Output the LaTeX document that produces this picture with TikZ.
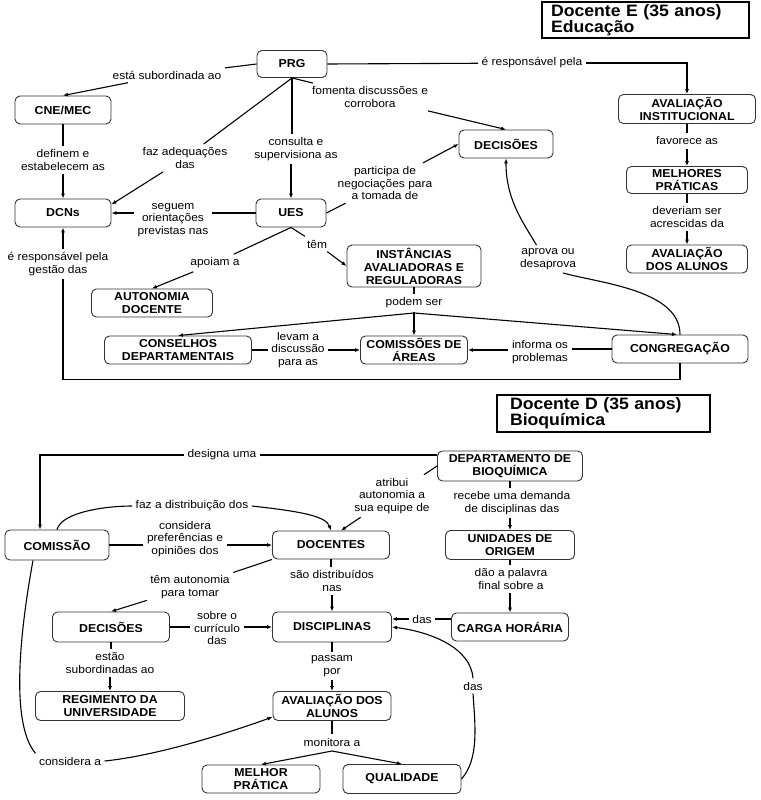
\documentclass[tikz,border=0pt]{standalone}
\usepackage{fontspec}
\setmainfont{Liberation Sans}[FakeStretch=1.07]
\usetikzlibrary{arrows.meta}

\tikzset{
  conceito/.style={draw=black!80, line width=0.9pt, rounded corners=5pt,
    font=\bfseries\fontsize{11.5}{13}\selectfont, align=center, inner sep=1pt},
  tam/.style 2 args={minimum width=#1pt, minimum height=#2pt},
  rotulo/.style={font=\fontsize{11.2}{12.5}\selectfont, align=center, inner sep=3pt},
  titulo/.style={draw, line width=2.4pt, font=\bfseries\fontsize{16.5}{16}\selectfont,
    align=left, inner ysep=2pt},
  seta/.style={-{Latex[length=5pt,width=4pt]}}
}

\begin{document}
\begin{tikzpicture}[x=1pt,y=-1pt,line width=1.1pt]
            \useasboundingbox (0,0) rectangle (760,800);
            % Docente E
            \node[titulo, text width=189pt, inner xsep=9pt, minimum height=36pt] (tituloE) at (645.5,20) {Docente E (35 anos)\\Educação};
            % Conceitos
            \node[conceito, tam={70}{27}] (prg) at (292,64) {PRG};
            \node[conceito, tam={96}{28}] (cne) at (63,110) {CNE/MEC};
            \node[conceito, tam={96}{28}] (dcns) at (63,213) {DCNs};
            \node[conceito, tam={70}{28}] (ues) at (291,213) {UES};
            \node[conceito, tam={94}{28}] (decisoesE) at (506,144) {DECISÕES};
            \node[conceito, tam={137}{29}] (avinst) at (687,109) {AVALIAÇÃO\\INSTITUCIONAL};
            \node[conceito, tam={121}{27}] (melhores) at (687,180) {MELHORES\\PRÁTICAS};
            \node[conceito, tam={121}{28}] (avalunosE) at (687,259) {AVALIAÇÃO\\DOS ALUNOS};
            \node[conceito, tam={134}{42}] (instancias) at (414,266) {INSTÂNCIAS\\AVALIADORAS E\\REGULADORAS};
            \node[conceito, tam={121}{28}] (autonomia) at (152,303) {AUTONOMIA\\DOCENTE};
            \node[conceito, tam={147}{28}] (conselhos) at (178,350) {CONSELHOS\\DEPARTAMENTAIS};
            \node[conceito, tam={107}{28}] (comissoes) at (414,350) {COMISSÕES DE\\ÁREAS};
            \node[conceito, tam={136}{28}] (congregacao) at (680,349) {CONGREGAÇÃO};
            % Frases de ligação
            \node[rotulo] (lSubord) at (167,75) {está subordinada ao};
            \node[rotulo] (lResp) at (532,63) {é responsável pela};
            \node[rotulo] (lFomenta) at (370,97) {fomenta discussões e\\corrobora};
            \node[rotulo] (lAdeq) at (185,158) {faz adequações\\das};
            \node[rotulo] (lConsulta) at (296,149) {consulta e\\supervisiona as};
            \node[rotulo] (lDefinem) at (63,160) {definem e\\estabelecem as};
            \node[rotulo] (lSeguem) at (173,220) {seguem\\orientações\\previstas nas};
            \node[rotulo] (lParticipa) at (385,183) {participa de\\negociações para\\a tomada de};
            \node[rotulo] (lFavorece) at (687,141) {favorece as};
            \node[rotulo] (lDeveriam) at (687,217) {deveriam ser\\acrescidas da};
            \node[rotulo] (lApoiam) at (215,263) {apoiam a};
            \node[rotulo] (lTem) at (317,244) {têm};
            \node[rotulo] (lAprova) at (548,259) {aprova ou\\desaprova};
            \node[rotulo] (lGestao) at (58,264) {é responsável pela\\gestão das};
            \node[rotulo] (lPodem) at (414,303) {podem ser};
            \node[rotulo] (lLevam) at (298,350) {levam a\\discussão\\para as};
            \node[rotulo] (lInforma) at (540,352) {informa os\\problemas};
            \coordinate (juncE) at (414,313);
            % Ligações
            \draw (prg.west) -- (lSubord);
            \draw[seta] (lSubord) -- (cne.north);
            \draw (prg.east) -- (lResp);
            \draw[seta] (lResp) -| (avinst.north);
            \draw (prg.south) -- (lFomenta);
            \draw[seta] (lFomenta) -- (decisoesE.north);
            \draw (prg.south) -- (lAdeq);
            \draw[seta] (lAdeq) -- (dcns.10);
            \draw (prg.south) -- (prg.south |- lConsulta.north);
            \draw[seta] (ues.north |- lConsulta.south) -- (ues.north);
            \draw (cne) -- (cne |- lDefinem.north);
            \draw[seta] (dcns |- lDefinem.south) -- (dcns);
            \draw (ues.west) -- (ues.west -| lSeguem.east);
            \draw[seta] (dcns.east -| lSeguem.west) -- (dcns.east);
            \draw (ues.east) -- (lParticipa);
            \draw[seta] (lParticipa) -- (decisoesE.west);
            \draw (avinst) -- (avinst |- lFavorece.north);
            \draw[seta] (melhores |- lFavorece.south) -- (melhores);
            \draw (melhores) -- (melhores |- lDeveriam.north);
            \draw[seta] (avalunosE |- lDeveriam.south) -- (avalunosE);
            \draw (ues.south) -- (lApoiam);
            \draw[seta] (lApoiam) -- (autonomia.north);
            \draw (ues.south) -- (lTem);
            \draw[seta] (lTem) -- (instancias.west);
            \draw (instancias) -- (instancias |- lPodem.north);
            \draw[seta] (lPodem) -- (comissoes);
            \draw[seta] (juncE) -- (conselhos.north);
            \draw[seta] (juncE) -- ([xshift=-3pt]congregacao.north);
            \draw (conselhos.east) -- (lLevam);
            \draw[seta] (lLevam) -- (comissoes.west);
            \draw (congregacao.west) -- (congregacao.west -| lInforma.east);
            \draw[seta] (comissoes.east -| lInforma.west) -- (comissoes.east);
            \draw (congregacao.north) .. controls +(0,-45) and +(35,10) .. ([xshift=15pt]lAprova.south);
            \draw[seta] ([xshift=20pt]lAprova.north west) .. controls +(-15,-25) and +(0,40) .. (decisoesE.south);
            \draw (congregacao.south) -- ++(0,16) -| (lGestao.south -| dcns.south);
            \draw[seta] (lGestao.north -| dcns.south) -- (dcns.south);

            % Docente D
            \node[titulo, text width=187pt, inner xsep=13pt, minimum height=37pt] (tituloD) at (603.5,413.5) {Docente D (35 anos)\\Bioquímica};
            % Conceitos
            \node[conceito, tam={145}{30}] (departamento) at (510,466) {DEPARTAMENTO DE\\BIOQUÍMICA};
            \node[conceito, tam={129}{29}] (unidades) at (510,545) {UNIDADES DE\\ORIGEM};
            \node[conceito, tam={117}{28}] (carga) at (510,627) {CARGA HORÁRIA};
            \node[conceito, tam={104}{30}] (comissao) at (57,545) {COMISSÃO};
            \node[conceito, tam={117}{28}] (docentes) at (331,545) {DOCENTES};
            \node[conceito, tam={117}{30}] (decisoesD) at (111,627) {DECISÕES};
            \node[conceito, tam={119}{30}] (disciplinas) at (332,627) {DISCIPLINAS};
            \node[conceito, tam={149}{29}] (regimento) at (110,706) {REGIMENTO DA\\UNIVERSIDADE};
            \node[conceito, tam={118}{29}] (avalunosD) at (332,706) {AVALIAÇÃO DOS\\ALUNOS};
            \node[conceito, tam={118}{28}] (melhor) at (261,779) {MELHOR\\PRÁTICA};
            \node[conceito, tam={118}{29}] (qualidade) at (402,779) {QUALIDADE};
            % Frases de ligação
            \node[rotulo] (lDesigna) at (222,455) {designa uma};
            \node[rotulo] (lAtribui) at (392,496) {atribui\\autonomia a\\sua equipe de};
            \node[rotulo] (lRecebe) at (512,503) {recebe uma demanda\\de disciplinas das};
            \node[rotulo] (lFazDist) at (192,506) {faz a distribuição dos};
            \node[rotulo] (lConsidera) at (185,539) {considera\\preferências e\\opiniões dos};
            \node[rotulo] (lTemAut) at (190,587) {têm autonomia\\para tomar};
            \node[rotulo] (lSaoDist) at (332,581) {são distribuídos\\nas};
            \node[rotulo] (lDao) at (511,579) {dão a palavra\\final sobre a};
            \node[rotulo] (lDas) at (422,619) {das};
            \node[rotulo] (lSobre) at (217,628) {sobre o\\currículo\\das};
            \node[rotulo] (lEstao) at (110,663) {estão\\subordinadas ao};
            \node[rotulo] (lPassam) at (332,666) {passam\\por};
            \node[rotulo] (lMonitora) at (332,742) {monitora a};
            \node[rotulo] (lConsideraA) at (70,761) {considera a};
            \node[rotulo] (lDasQ) at (473,686) {das};
            \coordinate (juncD) at (332,751);
            % Ligações
            \draw (departamento.west |- lDesigna) -- (lDesigna);
            \draw[seta] (lDesigna) -| ([xshift=-17pt]comissao.north);
            \draw (departamento.west) -- (lAtribui);
            \draw[seta] (lAtribui) -- ([xshift=10pt]docentes.north);
            \draw (departamento) -- (departamento |- lRecebe.north);
            \draw[seta] (unidades |- lRecebe.south) -- (unidades);
            \draw (unidades) -- (unidades |- lDao.north);
            \draw[seta] (carga |- lDao.south) -- (carga);
            \draw (carga.west |- lDas) -- (lDas);
            \draw[seta] (lDas) -- (lDas -| disciplinas.east);
            \draw (comissao.north) .. controls +(5,-18) and +(-25,0) .. (lFazDist.west);
            \draw[seta] (lFazDist.east) .. controls +(45,5) and +(-5,-15) .. (docentes.north);
            \draw (comissao.east) -- (lConsidera.west |- comissao.east);
            \draw[seta] (lConsidera.east |- docentes.west) -- (docentes.west);
            \draw (docentes.south west) -- (lTemAut);
            \draw[seta] (lTemAut) -- (decisoesD.north);
            \draw (docentes) -- (docentes |- lSaoDist.north);
            \draw[seta] (disciplinas |- lSaoDist.south) -- (disciplinas);
            \draw (decisoesD.east) -- (lSobre.west |- decisoesD.east);
            \draw[seta] (lSobre.east |- disciplinas.west) -- (disciplinas.west);
            \draw (decisoesD) -- (decisoesD |- lEstao.north);
            \draw[seta] (regimento |- lEstao.south) -- (regimento);
            \draw (disciplinas) -- (disciplinas |- lPassam.north);
            \draw[seta] (avalunosD |- lPassam.south) -- (avalunosD);
            \draw (avalunosD) -- (avalunosD |- lMonitora.north);
            \draw[seta] (juncD) -- (melhor.north);
            \draw[seta] (juncD) -- (qualidade.north);
            \draw (qualidade.east) .. controls +(18,-20) and +(2,30) .. (lDasQ.south);
            \draw[seta] (lDasQ.north) .. controls +(-2,-30) and +(40,5) .. (disciplinas.east);
            \draw ([xshift=-24pt]comissao.south) .. controls +(-11,60) and +(-27,-32) .. (lConsideraA.north west);
            \draw[seta] (lConsideraA.east) .. controls +(50,-5) and +(-50,18) .. ([yshift=-11pt]avalunosD.west);
\end{tikzpicture}
\end{document}
